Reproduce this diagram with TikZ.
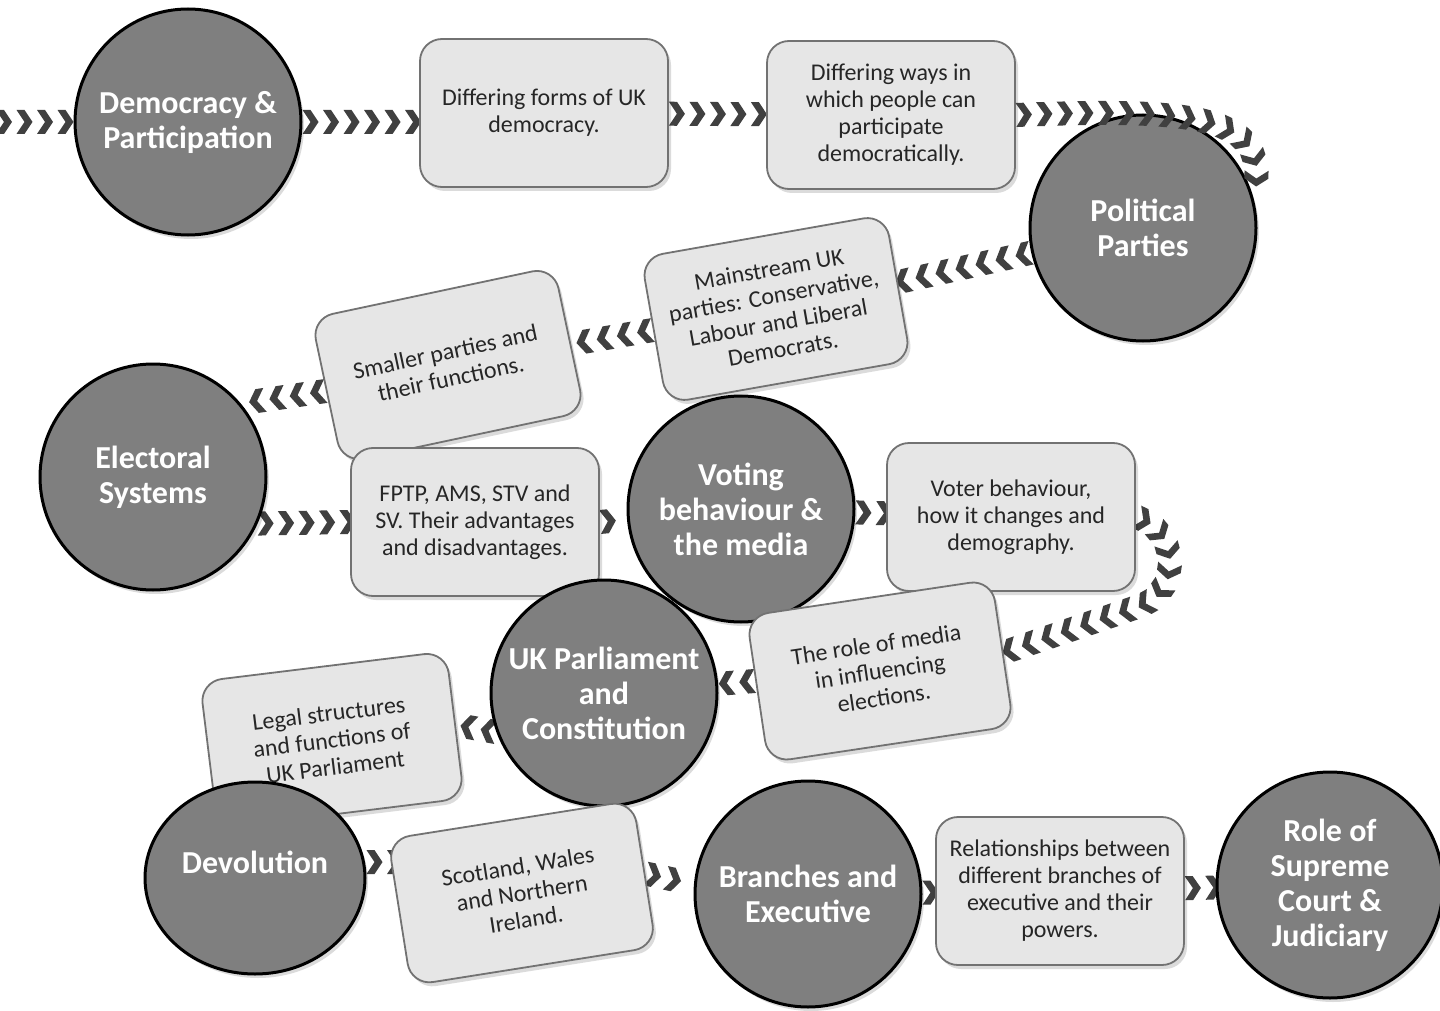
\documentclass[tikz,border=0pt]{standalone}
\usepackage{fontspec}
\setmainfont{Carlito}
\usetikzlibrary{shadows,decorations.markings,backgrounds,shapes.geometric}
\definecolor{topicfill}{HTML}{7F7F7F}
\definecolor{boxfill}{HTML}{E6E6E6}
\definecolor{boxline}{HTML}{727272}
\definecolor{chevcol}{HTML}{404040}
\definecolor{boxtext}{HTML}{262626}
\begin{document}
\begin{tikzpicture}[x=1pt,y=-1pt,
  softshadow/.style={drop shadow={shadow xshift=3pt,shadow yshift=-4pt,opacity=0.14,fill=black}},
  topic/.style={circle,draw=black,line width=3pt,fill=topicfill,minimum size=226pt,inner sep=0pt,
    align=center,text=white,font=\fontsize{32}{35}\selectfont\bfseries,softshadow},
  topictext/.style={align=center,text=white,font=\fontsize{32}{35}\selectfont\bfseries,inner sep=0pt},
  detail/.style={rectangle,rounded corners=22pt,draw=boxline,line width=1.8pt,fill=boxfill,
    minimum width=248pt,minimum height=148pt,inner sep=4pt,align=center,text=boxtext,
    font=\fontsize{24}{27}\selectfont,softshadow},
  chevrons/.style={postaction={decorate},decoration={markings,
    mark=between positions 7pt and -2pt step 20.5pt with {\fill[chevcol] (-7,-12) -- (1,-12) -- (9,0) -- (1,12) -- (-7,12) -- (1,0) -- cycle;}}}
]
\useasboundingbox (0,0) rectangle (1440,1011);
\coordinate (leftin) at (-4,122);

% detail boxes and topics (drawing order matters for overlaps)
\node[detail] (bA) at (544,113) {Differing forms of UK\\democracy.};
\node[detail] (bB) at (891,115) {Differing ways in\\which people can\\participate\\democratically.};
\node[detail,rotate=10] (bC) at (776,309) {Mainstream UK\\parties: Conservative,\\Labour and Liberal\\Democrats.};
\node[detail,rotate=12] (bD) at (448,365) {Smaller parties and\\their functions.};
\node[detail] (bE) at (475,522) {FPTP, AMS, STV and\\SV. Their advantages\\and disadvantages.};
\node[detail] (bF) at (1011,517) {Voter behaviour,\\how it changes and\\demography.};
\node[topic] (demo) at (188,122) {Democracy \&\\Participation};
\node[topic] (pol) at (1143,228) {Political\\Parties};
\node[topic] (elec) at (153,477) {Electoral\\Systems};
\node[topic] (vote) at (741,509) {Voting\\behaviour \&\\the media};
\node[detail,rotate=8.5] (bG) at (880,671) {The role of media\\in influencing\\elections.};
\node[topic] (parl) at (604,693) {UK Parliament\\and\\Constitution};
\node[detail,rotate=7] (bH) at (332,740) {Legal structures\\and functions of\\UK Parliament};
\node[topic,ellipse,minimum width=220pt,minimum height=192pt] (dev) at (255,878) {};
\node[topictext] (devtext) at (255,862) {Devolution};
\node[detail,rotate=9] (bI) at (522,893) {Scotland, Wales\\and Northern\\Ireland.};
\node[detail] (bJ) at (1060,891) {Relationships between\\different branches of\\executive and their\\powers.};
\node[topic] (bran) at (808,894) {Branches and\\Executive};
\node[topic] (role) at (1330,885) {Role of\\Supreme\\Court \&\\Judiciary};

\begin{scope}[on background layer]
  \fill[white] (0,0) rectangle (1440,1011);
  \path[chevrons] (leftin) -- (demo);
  \path[chevrons] (demo) -- (bA.west |- demo);
  \path[chevrons] (bA) -- (bB);
  \path[chevrons] (pol) -- (bC);
  \path[chevrons] (bC) -- (bD);
  \path[chevrons] (bD.west) -- (elec.40);
  \path[chevrons] (elec.-24) -- (bE.west);
  \path[chevrons] (bE.east) -- (vote);
  \path[chevrons] (vote) -- (bF);
  \path[chevrons] (bF.east) .. controls (1178,530) and (1182,590) .. (1140,606) -- (bG.east);
  \path[chevrons] (bG) -- (parl);
  \path[chevrons] (parl.200) -- (bH.east);
  \path[chevrons] (dev.east |- devtext) -- (bI.west |- devtext);
  \path[chevrons] (bI.east) -- (bran.175);
  \path[chevrons] (bran) -- (bJ);
  \path[chevrons] (bJ) -- (role);
\end{scope}
\path[chevrons] (bB.east) .. controls (1200,108) and (1272,115) .. (pol.15);
\end{tikzpicture}
\end{document}
